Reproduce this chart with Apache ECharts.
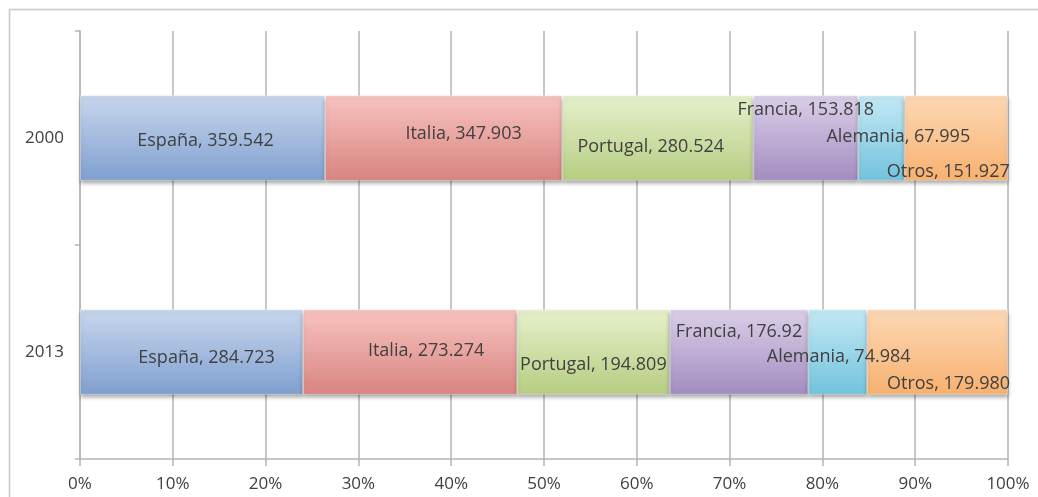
<!DOCTYPE html>
<html>
<head>
<meta charset="utf-8">
<script src="https://cdn.jsdelivr.net/npm/echarts@6/dist/echarts.min.js"></script>
<style>
  html, body { margin: 0; padding: 0; background: #fff; }
  #chart { width: 1038px; height: 497px; }
</style>
</head>
<body>
<div id="chart"></div>
<script>
// years on the category axis, top to bottom
const years = ['2000', '2013']
const countries = ['España', 'Italia', 'Portugal', 'Francia', 'Alemania', 'Otros']
// values as printed in the labels (thousands, Spanish separator)
const values2000 = ['359.542', '347.903', '280.524', '153.818', '67.995', '151.927']
const values2013 = ['284.723', '273.274', '194.809', '176.92', '74.984', '179.980']
const xTicks = [0, 10, 20, 30, 40, 50, 60, 70, 80, 90, 100]

// excel-ish gradient pairs (top, bottom)
const colors = [
  ['#c8d7ed', '#7f9fcf'],
  ['#f8c3c0', '#d8847f'],
  ['#e6f0cc', '#b6cd82'],
  ['#dbd0e8', '#a28cc0'],
  ['#c4e9f5', '#72c2dc'],
  ['#fdd8b5', '#f7b16f']
]
// label nudges [dx, dy] per country for each year, like the manual excel placement
const nudge2000 = [[3, 3], [20, -4], [-7, 9], [0, -28], [17, -1], [-8, 34]]
const nudge2013 = [[15, 6], [16, -1], [0, 13], [0, -20], [1, 5], [11, 32]]

const rows = [values2000, values2013]
const nudges = [nudge2000, nudge2013]
const totals = rows.map((r) => r.reduce((s, v) => s + parseFloat(v), 0))

const series = countries.map((name, ci) => ({
  name,
  type: 'bar',
  stack: 'total',
  barWidth: '40%',
  itemStyle: {
    color: {
      type: 'linear', x: 0, y: 0, x2: 0, y2: 1,
      colorStops: [
        { offset: 0, color: colors[ci][0] },
        { offset: 1, color: colors[ci][1] }
      ]
    },
    borderColor: 'rgba(255,255,255,0.35)',
    borderWidth: 1,
    shadowColor: 'rgba(0,0,0,0.35)',
    shadowBlur: 4,
    shadowOffsetY: 3
  },
  data: rows.map((r, yi) => ({
    value: parseFloat(r[ci]) / totals[yi] * 100,
    label: {
      show: true,
      position: 'inside',
      offset: nudges[yi][ci],
      formatter: name + ', ' + r[ci],
      color: '#404040',
      fontSize: 18,
      fontFamily: 'Open Sans'
    }
  }))
}))

const chart = echarts.init(document.getElementById('chart'))
chart.setOption({
  animation: false,
  backgroundColor: '#fff',
  graphic: [{
    type: 'rect',
    shape: { x: 9.5, y: 9.5, width: 1200, height: 700 },
    style: { fill: 'none', stroke: '#c8c8c8', lineWidth: 1.5 },
    silent: true
  }],
  grid: { left: 80, right: 30, top: 31, bottom: 38 },
  xAxis: {
    type: 'value',
    min: xTicks[0],
    max: xTicks[xTicks.length - 1],
    interval: 10,
    axisLine: { show: true, lineStyle: { color: '#b4b4b4', width: 1.5 } },
    axisTick: { show: true, length: 7, inside: false, lineStyle: { color: '#b4b4b4', width: 1.5 } },
    splitLine: { show: true, lineStyle: { color: '#b4b4b4', width: 1.5 } },
    axisLabel: {
      formatter: '{value}%',
      color: '#404040',
      fontSize: 17,
      fontFamily: 'Open Sans',
      margin: 17
    }
  },
  yAxis: {
    type: 'category',
    data: years,
    inverse: true,
    axisLine: { show: true, lineStyle: { color: '#b4b4b4', width: 1.5 } },
    axisTick: { show: true, length: 5, lineStyle: { color: '#b4b4b4', width: 1.5 } },
    axisLabel: {
      color: '#404040',
      fontSize: 17,
      fontFamily: 'Open Sans',
      margin: 16
    }
  },
  series
})
</script>
</body>
</html>
